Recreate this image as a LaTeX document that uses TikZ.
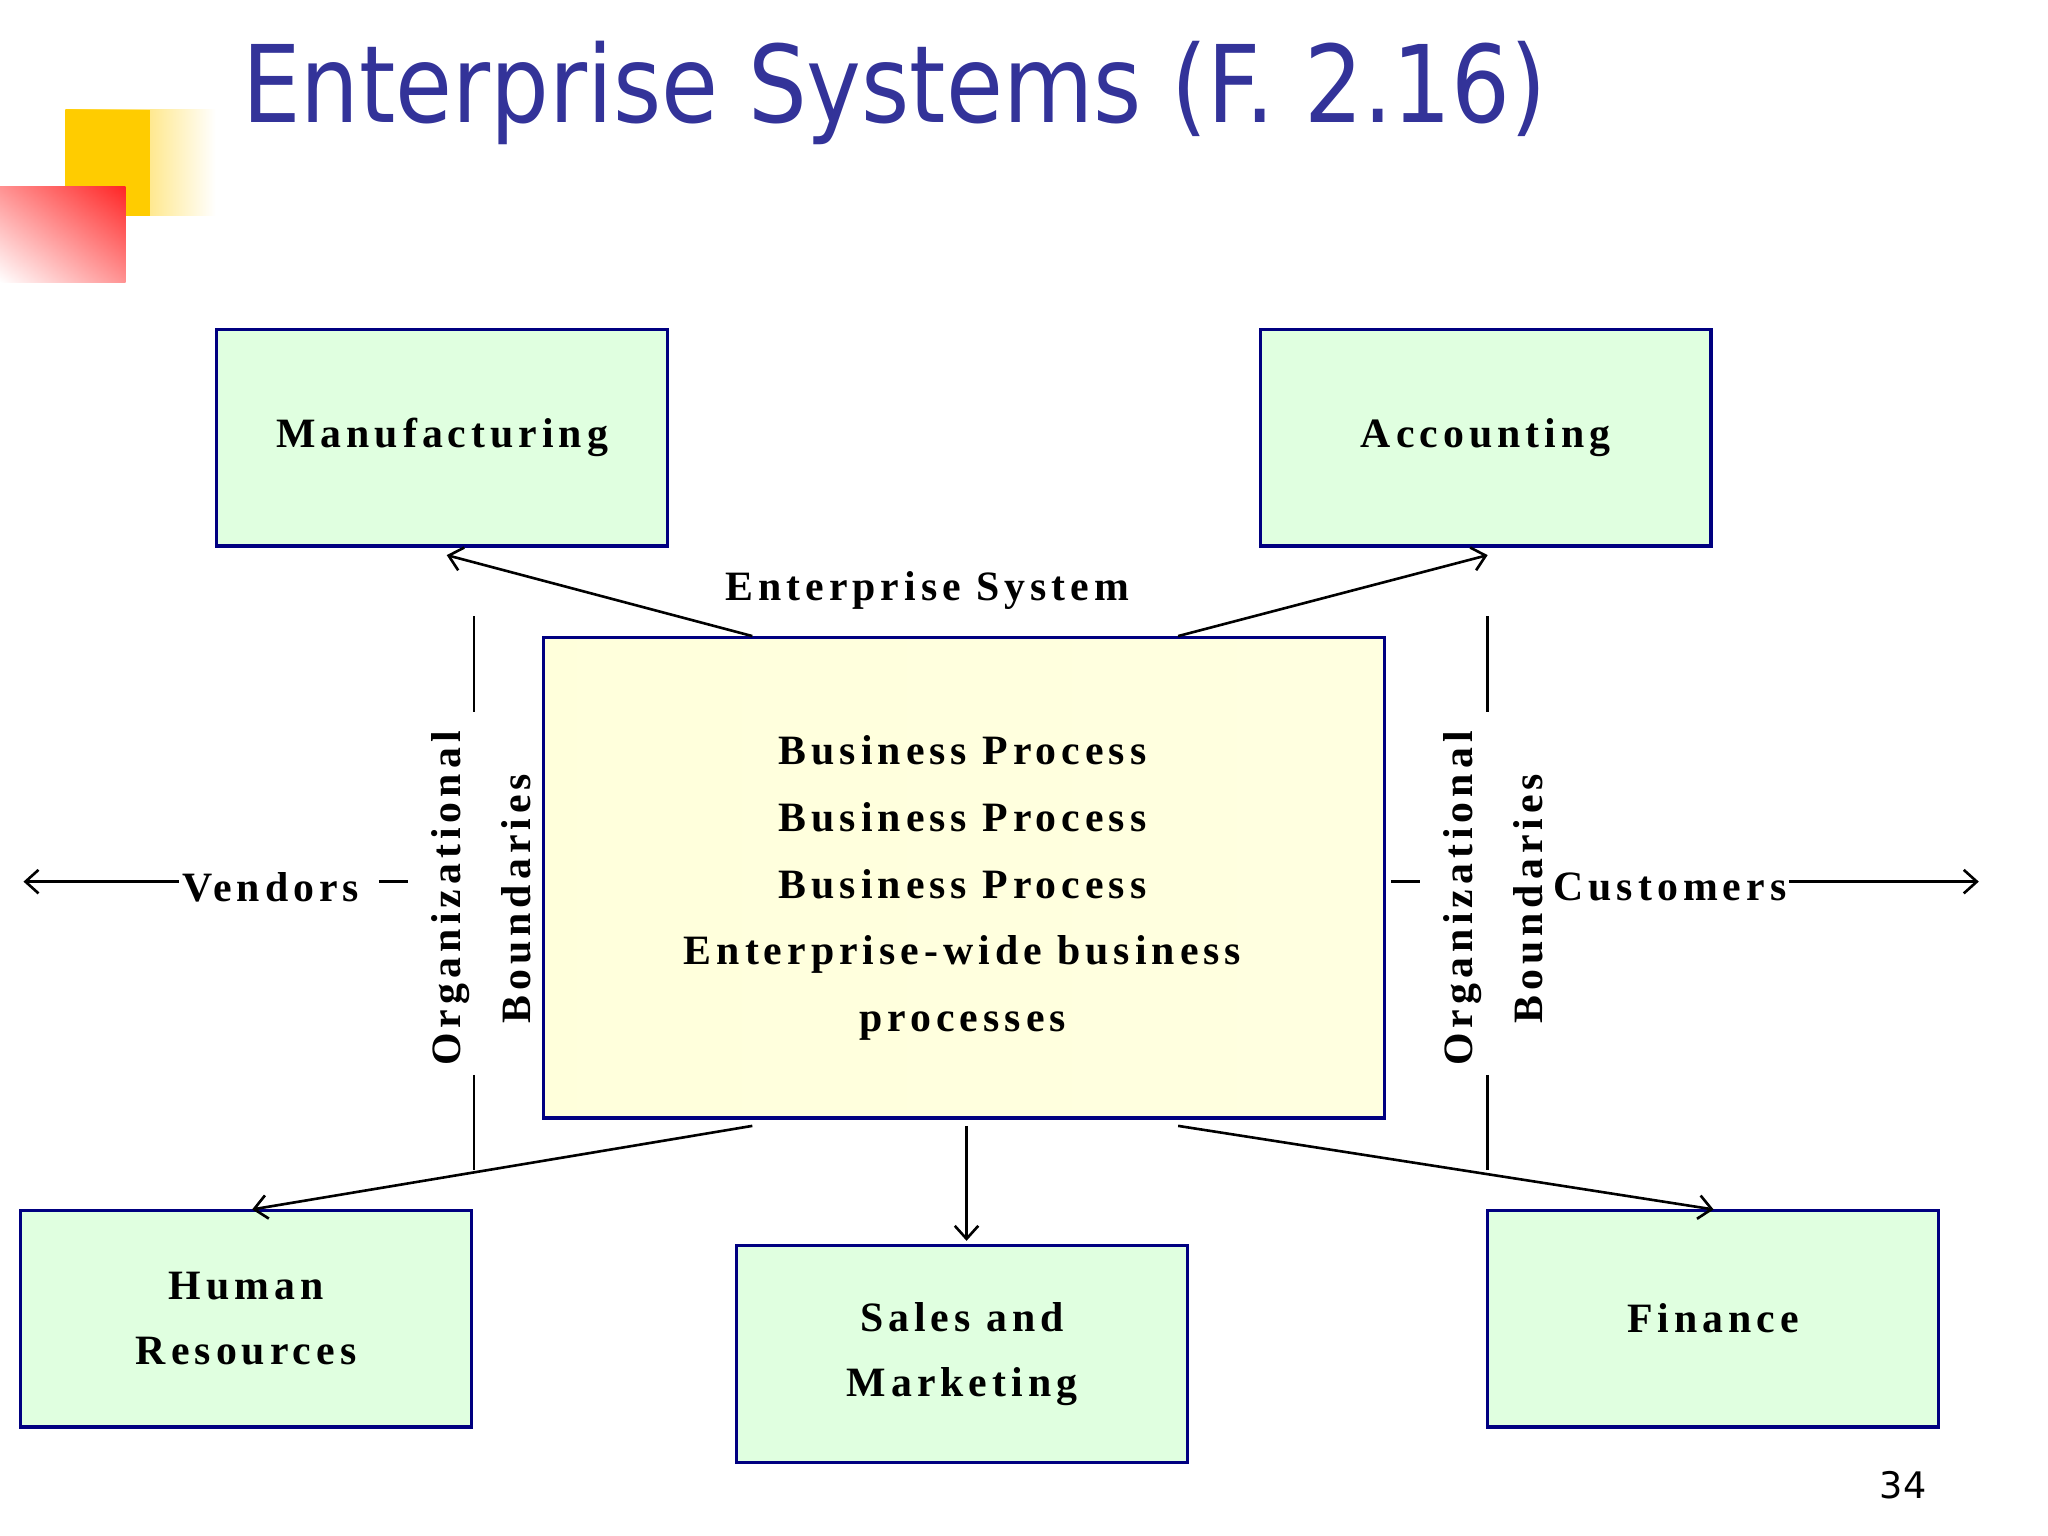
\documentclass[tikz,border=0pt]{standalone}
\usepackage{fontspec}
\setmainfont{Liberation Serif}
\newfontfamily\lsp[LetterSpace=12]{Liberation Serif}
\newfontfamily\ttl{DejaVu Sans}
\usetikzlibrary{arrows.meta}
\definecolor{boxg}{RGB}{224,255,224}
\definecolor{navy}{RGB}{0,0,128}
\definecolor{ttlc}{RGB}{51,51,153}
\definecolor{gold}{RGB}{255,204,0}
\tikzset{
 dept/.style={draw=navy,line width=1.2pt,fill=boxg,minimum width=172.5pt,minimum height=83pt,align=center,font=\lsp\bfseries\fontsize{16}{25}\selectfont},
 lbl/.style={font=\lsp\bfseries\fontsize{16}{25}\selectfont,inner sep=1pt},
 arr/.style={line width=1pt,-{Straight Barb[length=5pt,width=9pt]}},
 ln/.style={line width=1pt}
}
\begin{document}
\begin{tikzpicture}[x=0.5pt,y=-0.5pt]
\useasboundingbox (0,0) rectangle (1568,1176);
% logo
\shade[left color=gold,right color=white] (50,84) rectangle (165,165);
\fill[gold] (50,84) rectangle (115,165);
\shade[left color=white,right color=red!85] (0,143) rectangle (96,216);
\shade[top color=red!85,bottom color=white,opacity=0.5] (0,143) rectangle (96,216);
\node[font=\ttl\fontsize{41}{41}\selectfont,text=ttlc,anchor=base west,inner sep=0,xscale=0.865] (title) at (185,94) {Enterprise Systems (F. 2.16)};
\node[font=\ttl\fontsize{14}{14}\selectfont,anchor=base] (pg) at (1457,1147) {34};
% boxes
\node[dept] (man) at (338.5,335) {Manufacturing};
\node[dept] (acc) at (1137.5,335) {Accounting};
\node[dept] (hr) at (188.5,1009.5) {Human\\Resources};
\node[dept] (sal) at (736.5,1036.5) {Sales and\\Marketing};
\node[dept] (fin) at (1311.5,1009.5) {Finance};
\shade[left color=yellow!14,right color=yellow!12!white,draw=navy,line width=1.2pt] (416,488) rectangle (1060,856);
\node[lbl,align=center,font=\lsp\bfseries\fontsize{16}{25.5}\selectfont] (ent) at (737,680) {Business Process\\Business Process\\Business Process\\Enterprise-wide business\\processes};
\coordinate (t1) at (576,487);
\coordinate (t2) at (902,487);
\coordinate (b1) at (576,862);
\coordinate (b2) at (740,862);
\coordinate (b3) at (902,862);
\node[lbl] (es) at (710,452) {Enterprise System};
\draw[arr] (t1) -- (342,425);
\draw[arr] (t2) -- (1139,425);
\draw[arr] (b1) -- (193,926);
\draw[arr] (b2) -- (740,950);
\draw[arr] (b3) -- (1312,926);
% boundaries
\draw[ln] (363,472) -- (363,545) (363,823) -- (363,896);
\draw[ln] (1139,472) -- (1139,545) (1139,823) -- (1139,896);
\node[lbl,rotate=90] (ol) at (345,688) {Organizational};
\node[lbl,rotate=90] (bl) at (395,688) {Boundaries};
\node[lbl,rotate=90] (or) at (1120,688) {Organizational};
\node[lbl,rotate=90] (br) at (1170,688) {Boundaries};
% vendors/customers
\node[lbl,anchor=west] (ven) at (137,679) {Vendors};
\node[lbl,anchor=west] (cus) at (1187,679) {Customers};
\coordinate (vl) at (18,675);
\coordinate (cr) at (1515,675);
\draw[arr] (ven.west|-vl) -- (vl);
\draw[arr] (cus.east|-cr) -- (cr);
\draw[ln] (290,675) -- (312,675);
\draw[ln] (1065,675) -- (1087,675);
\end{tikzpicture}
\end{document}
